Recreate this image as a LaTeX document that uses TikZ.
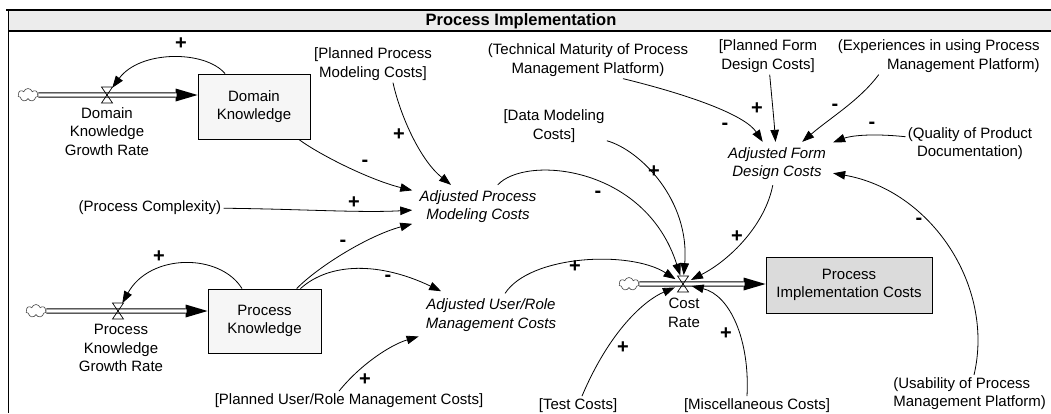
\documentclass[tikz,border=0pt]{standalone}
\usepackage{fontspec}
\setmainfont{Liberation Sans}
\usetikzlibrary{arrows.meta,shapes.symbols,calc}
\newcommand{\vsz}{\fontsize{15}{18.5}\selectfont}
\tikzset{
  every picture/.style={line width=0.8pt},
  lbl/.style={font=\vsz, align=center, inner sep=2pt},
  aux/.style={font=\vsz\itshape, align=center, inner xsep=7pt, inner ysep=5pt},
  stock/.style={draw, line width=0.9pt, fill=gray!7, font=\vsz, align=center},
  sign/.style={font=\fontsize{20}{20}\selectfont\bfseries, inner sep=0pt},
  link/.style={-{Triangle[length=12pt,width=8.5pt]}, line width=0.8pt},
  pipe/.style={line width=5.2pt, -{Triangle[length=22pt,width=13pt,line width=0pt]},
    postaction={draw=white, line width=3.2pt, -, shorten >=21pt}},
  sink/.style={cloud, cloud puffs=7, aspect=1.6, draw=black!70, line width=0.6pt,
    fill=white, minimum width=20pt, minimum height=13pt, inner sep=0pt},
  vpt/.style={circle, minimum size=17pt, inner sep=0pt},
  valve/.pic={\draw[line width=0.7pt] (-5.5,-8) -- (5.5,-8) -- (-5.5,8) -- (5.5,8) -- cycle;}
}

\begin{document}
\begin{tikzpicture}[x=1pt,y=-1pt]
    \useasboundingbox (0,0) rectangle (1051,413);

    % Header band
    \fill[gray!15] (8,10) rectangle (1051,31);
    \draw[line width=2.5pt] (6,10) -- (1051,10);
    \draw[line width=1.5pt] (8,31) -- (1051,31);
    \draw[line width=1.3pt] (8.5,10) -- (8.5,413);
    \node[font=\fontsize{16.5}{16.5}\selectfont\bfseries] (ttl) at (521,21) {Process Implementation};

    % Stocks
    \node[stock, minimum width=112pt, minimum height=65pt] (dk) at (254,106.5) {Domain\\Knowledge};
    \node[stock, minimum width=113pt, minimum height=64pt] (pk) at (264.5,321) {Process\\Knowledge};
    \node[stock, fill=gray!28, minimum width=166pt, minimum height=56pt] (pic) at (849,285) {Process\\Implementation Costs};

    % Sources and valves
    \node[sink] (cl1) at (28,95) {};
    \node[sink] (cl2) at (36,311) {};
    \node[sink] (cl3) at (629,284) {};
    \node[vpt] (v1) at (107,95) {};
    \node[vpt] (v2) at (118,311) {};
    \node[vpt] (cr) at (683,284) {};

    % Flows
    \draw[pipe] (cl1) -- (cl1 -| dk.west);
    \draw[pipe] (cl2) -- (cl2 -| pk.west);
    \draw[pipe] (cl3) -- (cl3 -| pic.west);
    \pic at (v1) {valve};
    \pic at (v2) {valve};
    \pic at (cr) {valve};
    \node[lbl, anchor=north] (v1l) at (107,105) {Domain\\Knowledge\\Growth Rate};
    \node[lbl, anchor=north] (v2l) at (121,322) {Process\\Knowledge\\Growth Rate};
    \node[lbl, anchor=north] (crl) at (684,296) {Cost\\Rate};

    % Auxiliaries
    \node[aux] (apmc) at (478,206.5) {Adjusted Process\\Modeling Costs};
    \node[aux] (aurmc) at (491,315) {Adjusted User/Role\\Management Costs};
    \node[aux] (afdc) at (777,163.5) {Adjusted Form\\Design Costs};

    % Inputs
    \node[lbl] (ppm) at (373,64) {[Planned Process\\Modeling Costs]};
    \node[lbl] (pc) at (150,207.5) {(Process Complexity)};
    \node[lbl] (purmc) at (349,400.5) {[Planned User/Role Management Costs]};
    \node[lbl] (dm) at (554,126) {[Data Modeling\\Costs]};
    \node[lbl] (tech) at (588,60) {(Technical Maturity of Process\\Management Platform)};
    \node[lbl] (pf) at (768,56) {[Planned Form\\Design Costs]};
    \node[lbl, align=right, anchor=east] (exp) at (1042,56) {(Experiences in using Process\\Management Platform)};
    \node[lbl] (qpd) at (970,143.5) {(Quality of Product\\Documentation)};
    \node[lbl, align=left, anchor=west] (usab) at (891,393.5) {(Usability of Process\\Management Platform)};
    \node[lbl] (test) at (578,405.5) {[Test Costs]};
    \node[lbl] (misc) at (757,405.5) {[Miscellaneous Costs]};

    % Feedback loops
    \draw[link] ([xshift=-29pt]dk.north) .. controls (205,50) and (140,50) .. (v1);
    \draw[link] ([xshift=-22.5pt]pk.north) .. controls (220,253) and (150,253) .. (v2);

    % Links to the adjusted costs
    \draw[link] (dk) .. controls (320,155) and (370,180) .. (apmc);
    \draw[link] ([xshift=20pt]ppm.south) .. controls (400,115) and (420,160) .. (apmc);
    \draw[link] (pc) .. controls (300,209) and (360,213) .. (apmc);
    \draw[link] (pk) .. controls (320,265) and (370,235) .. (apmc);
    \draw[link, shorten >=5pt] (pk) .. controls (330,262) and (380,262) .. (aurmc);
    \draw[link] ([xshift=-10pt]purmc.north) .. controls (360,365) and (390,345) .. (aurmc);
    \draw[link] ([xshift=35pt]tech.south) .. controls (690,95) and (745,115) .. (afdc);
    \draw[link] (pf) .. controls (772,100) and (774,120) .. (afdc);
    \draw[link] ([xshift=-60pt]exp.south) .. controls (860,100) and (830,118) .. (afdc);
    \draw[link] (qpd) .. controls (870,133) and (850,136) .. (afdc);
    \draw[link] (usab) .. controls (995,285) and (930,190) .. (afdc);

    % Links to the cost rate
    \draw[link] (apmc) .. controls (525,155) and (645,165) .. (cr);
    \draw[link] (dm) .. controls (640,150) and (690,200) .. (cr);
    \draw[link] (aurmc) .. controls (530,255) and (630,250) .. (cr);
    \draw[link] (afdc) .. controls (765,225) and (730,260) .. (cr);
    \draw[link] (test) .. controls (610,330) and (645,300) .. (cr);
    \draw[link] ([xshift=-10pt]misc.north) .. controls (750,340) and (730,295) .. (cr);

    % Polarities
    \node[sign] (s1) at (181,44) {+};
    \node[sign] (s2) at (159,257) {+};
    \node[sign] (s3) at (365,163) {-};
    \node[sign] (s4) at (399,135) {+};
    \node[sign] (s5) at (354,203) {+};
    \node[sign] (s6) at (343,243) {-};
    \node[sign] (s7) at (388,278) {-};
    \node[sign] (s8) at (365,380) {+};
    \node[sign] (s9) at (598,194) {-};
    \node[sign] (s10) at (654,172) {+};
    \node[sign] (s11) at (575,267) {+};
    \node[sign] (s12) at (725,126) {-};
    \node[sign] (s13) at (757,109) {+};
    \node[sign] (s14) at (835,107) {-};
    \node[sign] (s15) at (872,125) {-};
    \node[sign] (s16) at (919,221) {-};
    \node[sign] (s17) at (737,237) {+};
    \node[sign] (s18) at (623,348) {+};
    \node[sign] (s19) at (726,334) {+};
\end{tikzpicture}
\end{document}
